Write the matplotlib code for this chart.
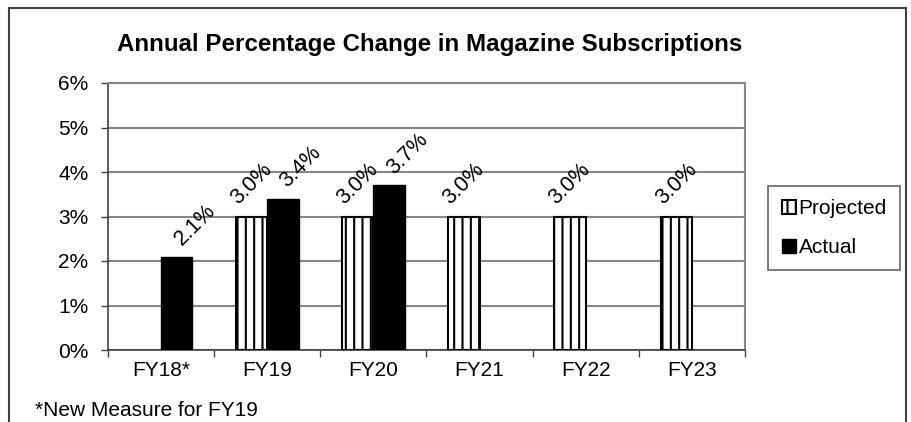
import matplotlib
matplotlib.use("Agg")
import matplotlib.pyplot as plt
from matplotlib.patches import Rectangle
import numpy as np

plt.rcParams['font.family'] = ['Liberation Sans', 'DejaVu Sans']
plt.rcParams['hatch.linewidth'] = 1.5

categories = ["FY18*", "FY19", "FY20", "FY21", "FY22", "FY23"]
projected = [np.nan, 3.0, 3.0, 3.0, 3.0, 3.0]
actual = [2.1, 3.4, 3.7, np.nan, np.nan, np.nan]
yticks = [0, 1, 2, 3, 4, 5, 6]
title = "Annual Percentage Change in Magazine Subscriptions"
footnote = "*New Measure for FY19"

W, H = 912, 422
fig = plt.figure(figsize=(W / 100, H / 100), dpi=100)
ax = fig.add_axes([108 / W, 1 - 350 / H, (745 - 108) / W, (350 - 83) / H])

x = np.arange(len(categories))
bw = 0.295
bp = ax.bar(x - bw / 2, projected, bw, facecolor='white', edgecolor='black',
            hatch='||', linewidth=1.5, label='Projected', zorder=3)
ba = ax.bar(x + bw / 2, actual, bw, facecolor='black', edgecolor='black',
            linewidth=1.0, label='Actual', zorder=3)

for xi, v in zip(x, projected):
    if not np.isnan(v):
        ax.annotate(f"{v:.1f}%", (xi - bw / 2, v), xytext=(0, 6),
                    textcoords='offset points', rotation=45, ha='center',
                    va='bottom', fontsize=15.5)
for xi, v in zip(x, actual):
    if not np.isnan(v):
        ax.annotate(f"{v:.1f}%", (xi + bw / 2, v), xytext=(13, 5),
                    textcoords='offset points', rotation=45, ha='center',
                    va='bottom', fontsize=15.5)

ax.set_xlim(-0.5, len(categories) - 0.5)
ax.set_ylim(0, 6)
ax.set_yticks(yticks)
ax.set_yticklabels([f"{t}%" for t in yticks], fontsize=15)
ax.set_xticks(x)
ax.set_xticklabels(categories, fontsize=15)
ax.set_xticks(np.arange(len(categories) + 1) - 0.5, minor=True)
ax.tick_params(axis='x', which='major', length=0, pad=8)
ax.tick_params(axis='x', which='minor', length=5, width=1, color='#404040', direction='out')
ax.tick_params(axis='y', length=5, width=1, color='#404040', direction='out', pad=9)

ax.yaxis.grid(True, color='#878787', linewidth=1.5, zorder=0)
ax.set_axisbelow(True)
for s in ['top', 'right']:
    ax.spines[s].set_color('#878787')
    ax.spines[s].set_linewidth(1.5)
for s in ['left', 'bottom']:
    ax.spines[s].set_color('#404040')
    ax.spines[s].set_linewidth(1.2)

fig.text(430 / W, 1 - 44 / H, title, ha='center', va='center',
         fontsize=17.4, fontweight='bold')
fig.text(35 / W, 1 - 411 / H, footnote, ha='left', va='center', fontsize=15)

leg = fig.legend(handles=[bp, ba], loc='center', bbox_to_anchor=(834.5 / W, 1 - 228 / H),
                 fontsize=15, frameon=True, fancybox=False, edgecolor='#404040',
                 handlelength=0.65, handleheight=0.65, handletextpad=0.15,
                 labelspacing=0.95, borderpad=0.65, borderaxespad=0)
leg.get_frame().set_linewidth(1.2)

fig.patches.append(Rectangle((9 / W, -0.1), (906 - 9) / W, 1.1 - 8 / H,
                             transform=fig.transFigure, fill=False,
                             edgecolor='#404040', linewidth=1.5))

fig.savefig("out.png", dpi=100)
